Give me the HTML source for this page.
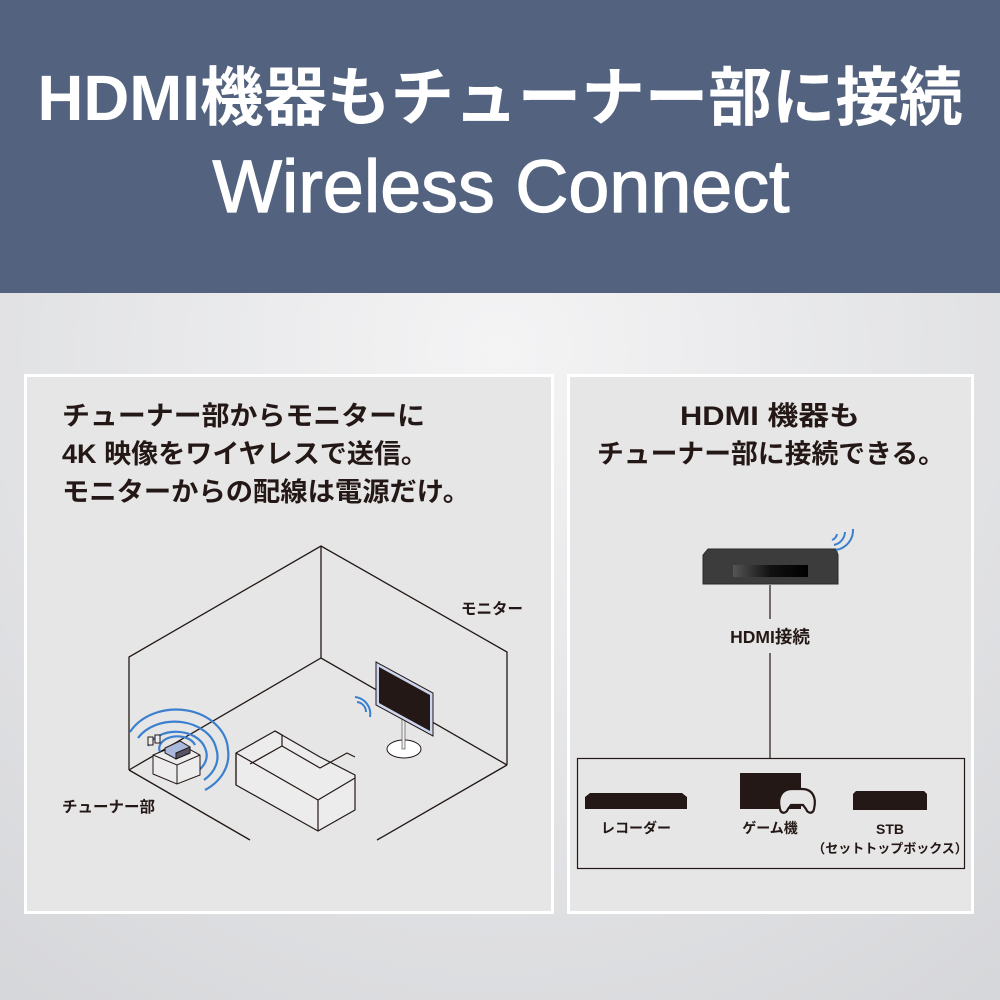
<!DOCTYPE html>
<html><head><meta charset="utf-8">
<style>
html,body{margin:0;padding:0;width:1000px;height:1000px;overflow:hidden}
</style></head>
<body>
<svg width="1000" height="1000" viewBox="0 0 1000 1000" xmlns="http://www.w3.org/2000/svg" font-family="Liberation Sans, Noto Sans CJK JP, sans-serif">
<defs>
<radialGradient id="bg" cx="0.5" cy="0.35" r="0.8">
<stop offset="0" stop-color="#f4f4f5"/><stop offset="1" stop-color="#d6d7da"/>
</radialGradient>
<linearGradient id="scr" x1="0" x2="1"><stop offset="0" stop-color="#555"/><stop offset="0.5" stop-color="#111"/><stop offset="1" stop-color="#000"/></linearGradient>
</defs>
<rect width="1000" height="1000" fill="url(#bg)"/>
<rect width="1000" height="293" fill="#53637f"/>
<text x="500" y="120" text-anchor="middle" fill="#fff" font-size="64" font-weight="bold" textLength="925" lengthAdjust="spacingAndGlyphs">HDMI機器もチューナー部に接続</text>
<text x="501" y="212" text-anchor="middle" fill="#fff" stroke="#fff" stroke-width="1.2" font-size="74" textLength="577" lengthAdjust="spacingAndGlyphs">Wireless Connect</text>

<rect x="25.5" y="375.5" width="527" height="537" fill="#e6e6e6" stroke="#fff" stroke-width="3"/>
<rect x="568.5" y="375.5" width="404" height="537" fill="#e6e6e6" stroke="#fff" stroke-width="3"/>

<g fill="#231815" font-weight="bold" font-size="26.5">
<text x="62" y="425" textLength="363" lengthAdjust="spacingAndGlyphs">チューナー部からモニターに</text>
<text x="62" y="463" textLength="366" lengthAdjust="spacingAndGlyphs">4K 映像をワイヤレスで送信。</text>
<text x="62" y="501" textLength="408" lengthAdjust="spacingAndGlyphs">モニターからの配線は電源だけ。</text>
<text x="770" y="425" text-anchor="middle" textLength="180" lengthAdjust="spacingAndGlyphs">HDMI 機器も</text>
<text x="771" y="463" text-anchor="middle" textLength="348" lengthAdjust="spacingAndGlyphs">チューナー部に接続できる。</text>
</g>

<g fill="none" stroke="#231815" stroke-width="1.3">
<polyline points="129,770 129,657 321,546 507,652 507,765"/>
<line x1="321" y1="546" x2="321" y2="658"/>
<polyline points="129,770 321,658 507,765"/>
<line x1="129" y1="770" x2="250" y2="840"/>
<line x1="507" y1="765" x2="377" y2="840"/>
</g>
<g fill="#ececec" stroke="#231815" stroke-width="1.2" stroke-linejoin="round">
<polygon points="236,753 275,731 320,757 355,775 355,810 318,831 236,785"/>
<polyline points="236,753 236,785" fill="none"/>
<polyline points="236,753 318,800 355,778" fill="none"/>
<polyline points="318,800 318,831" fill="none"/>
<polyline points="275,731 282,735 282,746 250,764" fill="none"/>
<polyline points="282,746 320,768 347,753 355,757" fill="none"/>
</g>
<g>
<ellipse cx="404" cy="749" rx="17" ry="9" fill="#fff" stroke="#231815" stroke-width="1"/>
<rect x="402" y="715" width="3" height="34" fill="#eee" stroke="#555" stroke-width="0.7"/>
<polygon points="376,662 433,693 433,736 376,705" fill="#ccd6ee" stroke="#231815" stroke-width="1"/>
<polygon points="379,667 430,695 430,731 379,703" fill="#231815"/>
</g>
<g fill="none" stroke="#3b7fcf" stroke-width="2">
<path d="M357,702 A10,10 0 0 1 366,712"/>
<path d="M355,697 A17,17 0 0 1 370,717"/>
</g>
<g fill="none" stroke="#3b7fcf" stroke-width="2.2">
<path d="M160,752 A18,12 0 0 1 195,745"/>
<path d="M148,746 A30,22 0 0 1 205,748 M199,770 A30,22 0 0 0 205,748"/>
<path d="M138,738 A42,32 0 0 1 216,748 M204,780 A42,32 0 0 0 216,748"/>
<path d="M130,732 A52,42 0 0 1 228,750 M205,790 A52,42 0 0 0 228,750"/>
</g>
<g fill="#ececec" stroke="#231815" stroke-width="1">
<rect x="148" y="737" width="5" height="8"/><rect x="155" y="735" width="5" height="8"/>
<polygon points="153,755 180,744 200,755 200,775 177,784 153,774"/>
<polyline points="153,755 177,765 200,755" fill="none"/>
<line x1="177" y1="765" x2="177" y2="784"/>
<polygon points="165,748 180,741 190,747 190,753 176,759 165,753" fill="#a9b8dc"/>
<polygon points="176,753 190,747 190,753 176,759" fill="#556"/>
</g>
<g fill="#231815" font-weight="bold" font-size="15.5">
<text x="461" y="614">モニター</text>
<text x="62" y="812">チューナー部</text>
</g>

<g stroke="#231815" stroke-width="1.2">
<line x1="770" y1="585" x2="770" y2="619"/>
<line x1="770" y1="653" x2="770" y2="758"/>
</g>
<polygon points="708,549 836,549 838,555 838,584 703,584 703,555" fill="#3c3c3c" stroke="#2a2a2a"/>
<rect x="733" y="565" width="75" height="12" fill="url(#scr)"/>
<g fill="none" stroke="#3b7fcf" stroke-width="2">
<path d="M832,540 A8,8 0 0 0 837,534"/>
<path d="M834,545 A14,14 0 0 0 845,532"/>
<path d="M836,550 A20,20 0 0 0 853,529"/>
</g>
<text x="770" y="643" text-anchor="middle" fill="#231815" font-weight="bold" font-size="17.5">HDMI接続</text>
<rect x="577.5" y="758.5" width="387" height="110" fill="none" stroke="#231815" stroke-width="1.2"/>
<polygon points="590,793 682,793 687,797 687,809 585,809 585,797" fill="#231815"/>
<rect x="740" y="773" width="61" height="36" fill="#231815"/>
<path d="M792,789 c-10,0 -15,8 -12,20 c1,5 6,5 8,0 l3,-4 h12 l3,4 c2,5 7,5 8,0 c3,-12 -2,-20 -12,-20 z" fill="#e6e6e6" stroke="#231815" stroke-width="2.2"/>
<polygon points="856,791 924,791 927,794 927,810 853,810 853,794" fill="#231815"/>
<g fill="#231815" font-weight="bold" font-size="14" text-anchor="middle">
<text x="636" y="833">レコーダー</text>
<text x="770" y="833">ゲーム機</text>
<text x="890" y="834">STB</text>
<text x="890" y="853" font-size="13">（セットトップボックス）</text>
</g>
</svg>
</body></html>
